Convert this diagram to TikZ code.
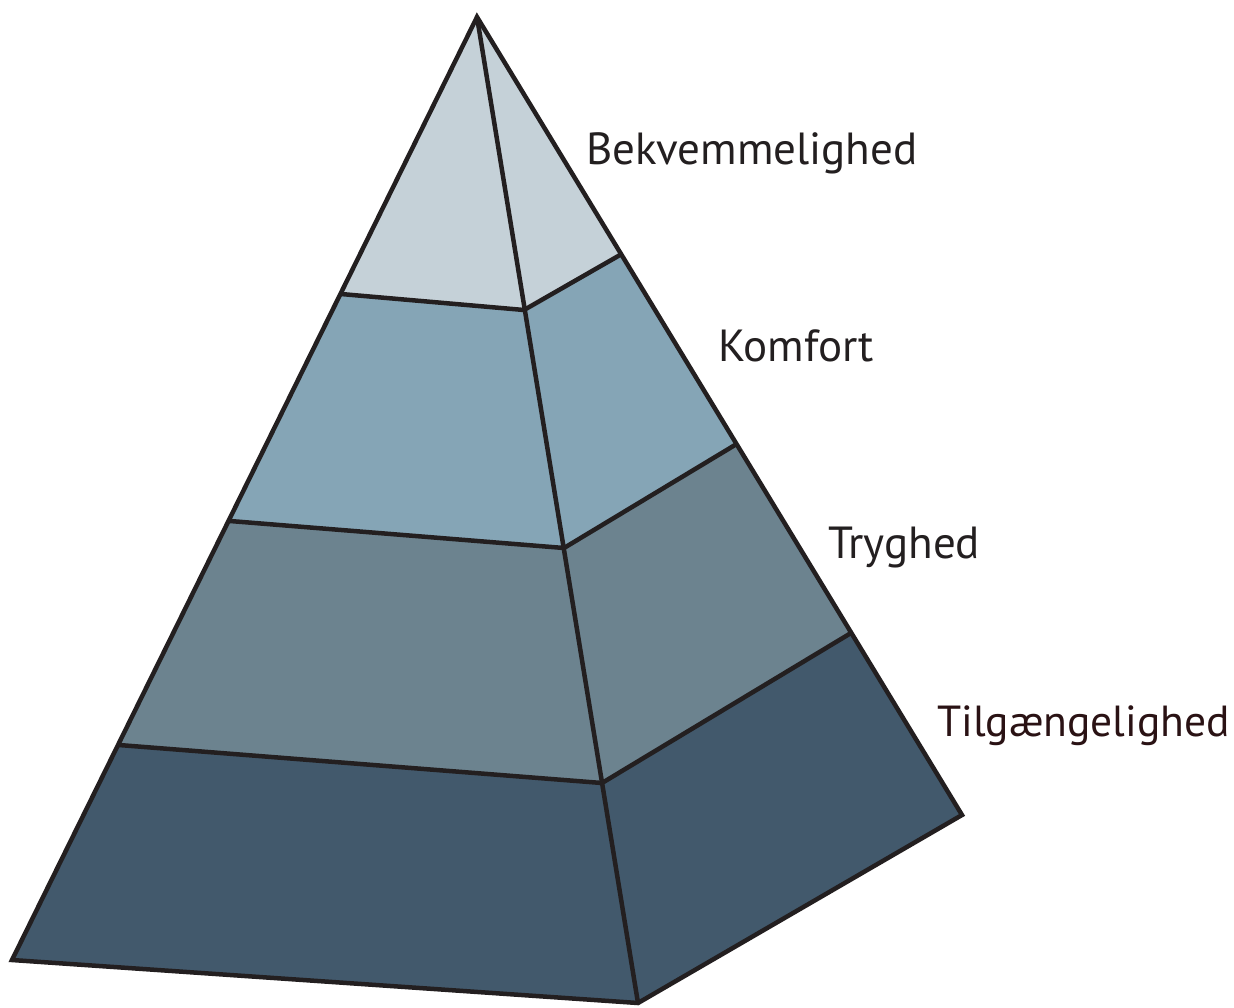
\documentclass[tikz,border=0pt]{standalone}
\usepackage{fontspec}
\setmainfont{PT Sans}
\begin{document}
\begin{tikzpicture}[x=1pt,y=-1pt,
  edge/.style={draw=ink,line width=4.5pt,line join=miter},
  lbl/.style={anchor=base west,inner sep=0pt,font=\fontsize{45}{54}\selectfont,text=ink}]
\definecolor{ink}{HTML}{231F20}
\definecolor{inkred}{HTML}{2A1214}
\definecolor{lvA}{HTML}{C5D1D8}
\definecolor{lvB}{HTML}{85A5B6}
\definecolor{lvC}{HTML}{6C838F}
\definecolor{lvD}{HTML}{42596C}
\useasboundingbox (0,0) rectangle (1234,1007);
% corner points of the pyramid and its level lines
\coordinate (A) at (477,17);
\coordinate (L1) at (341,294); \coordinate (L2) at (230,521);
\coordinate (L3) at (119,745); \coordinate (L4) at (12,960);
\coordinate (F1) at (524,310); \coordinate (F2) at (564,548);
\coordinate (F3) at (602,783); \coordinate (F4) at (638,1003);
\coordinate (R1) at (620,255); \coordinate (R2) at (735,445);
\coordinate (R3) at (851,633); \coordinate (R4) at (962,815);
% levels
\fill[lvA] (A) -- (L1) -- (F1) -- (R1) -- cycle;
\fill[lvB] (L1) -- (L2) -- (F2) -- (R2) -- (R1) -- (F1) -- cycle;
\fill[lvC] (L2) -- (L3) -- (F3) -- (R3) -- (R2) -- (F2) -- cycle;
\fill[lvD] (L3) -- (L4) -- (F4) -- (R4) -- (R3) -- (F3) -- cycle;
% outline and edges
\draw[edge] (L1) -- (F1) -- (R1);
\draw[edge] (L2) -- (F2) -- (R2);
\draw[edge] (L3) -- (F3) -- (R3);
\draw[edge] (A) -- (F4);
\draw[edge] (A) -- (L4) -- (F4) -- (R4) -- cycle;
% labels
\node[lbl] (t1) at (586,164) {Bekvemmelighed};
\node[lbl] (t2) at (718,361) {Komfort};
\node[lbl] (t3) at (828,558) {Tryghed};
\node[lbl,text=inkred,font=\fontsize{43.5}{52}\selectfont] (t4) at (937,736) {Tilgængelighed};
\end{tikzpicture}
\end{document}
